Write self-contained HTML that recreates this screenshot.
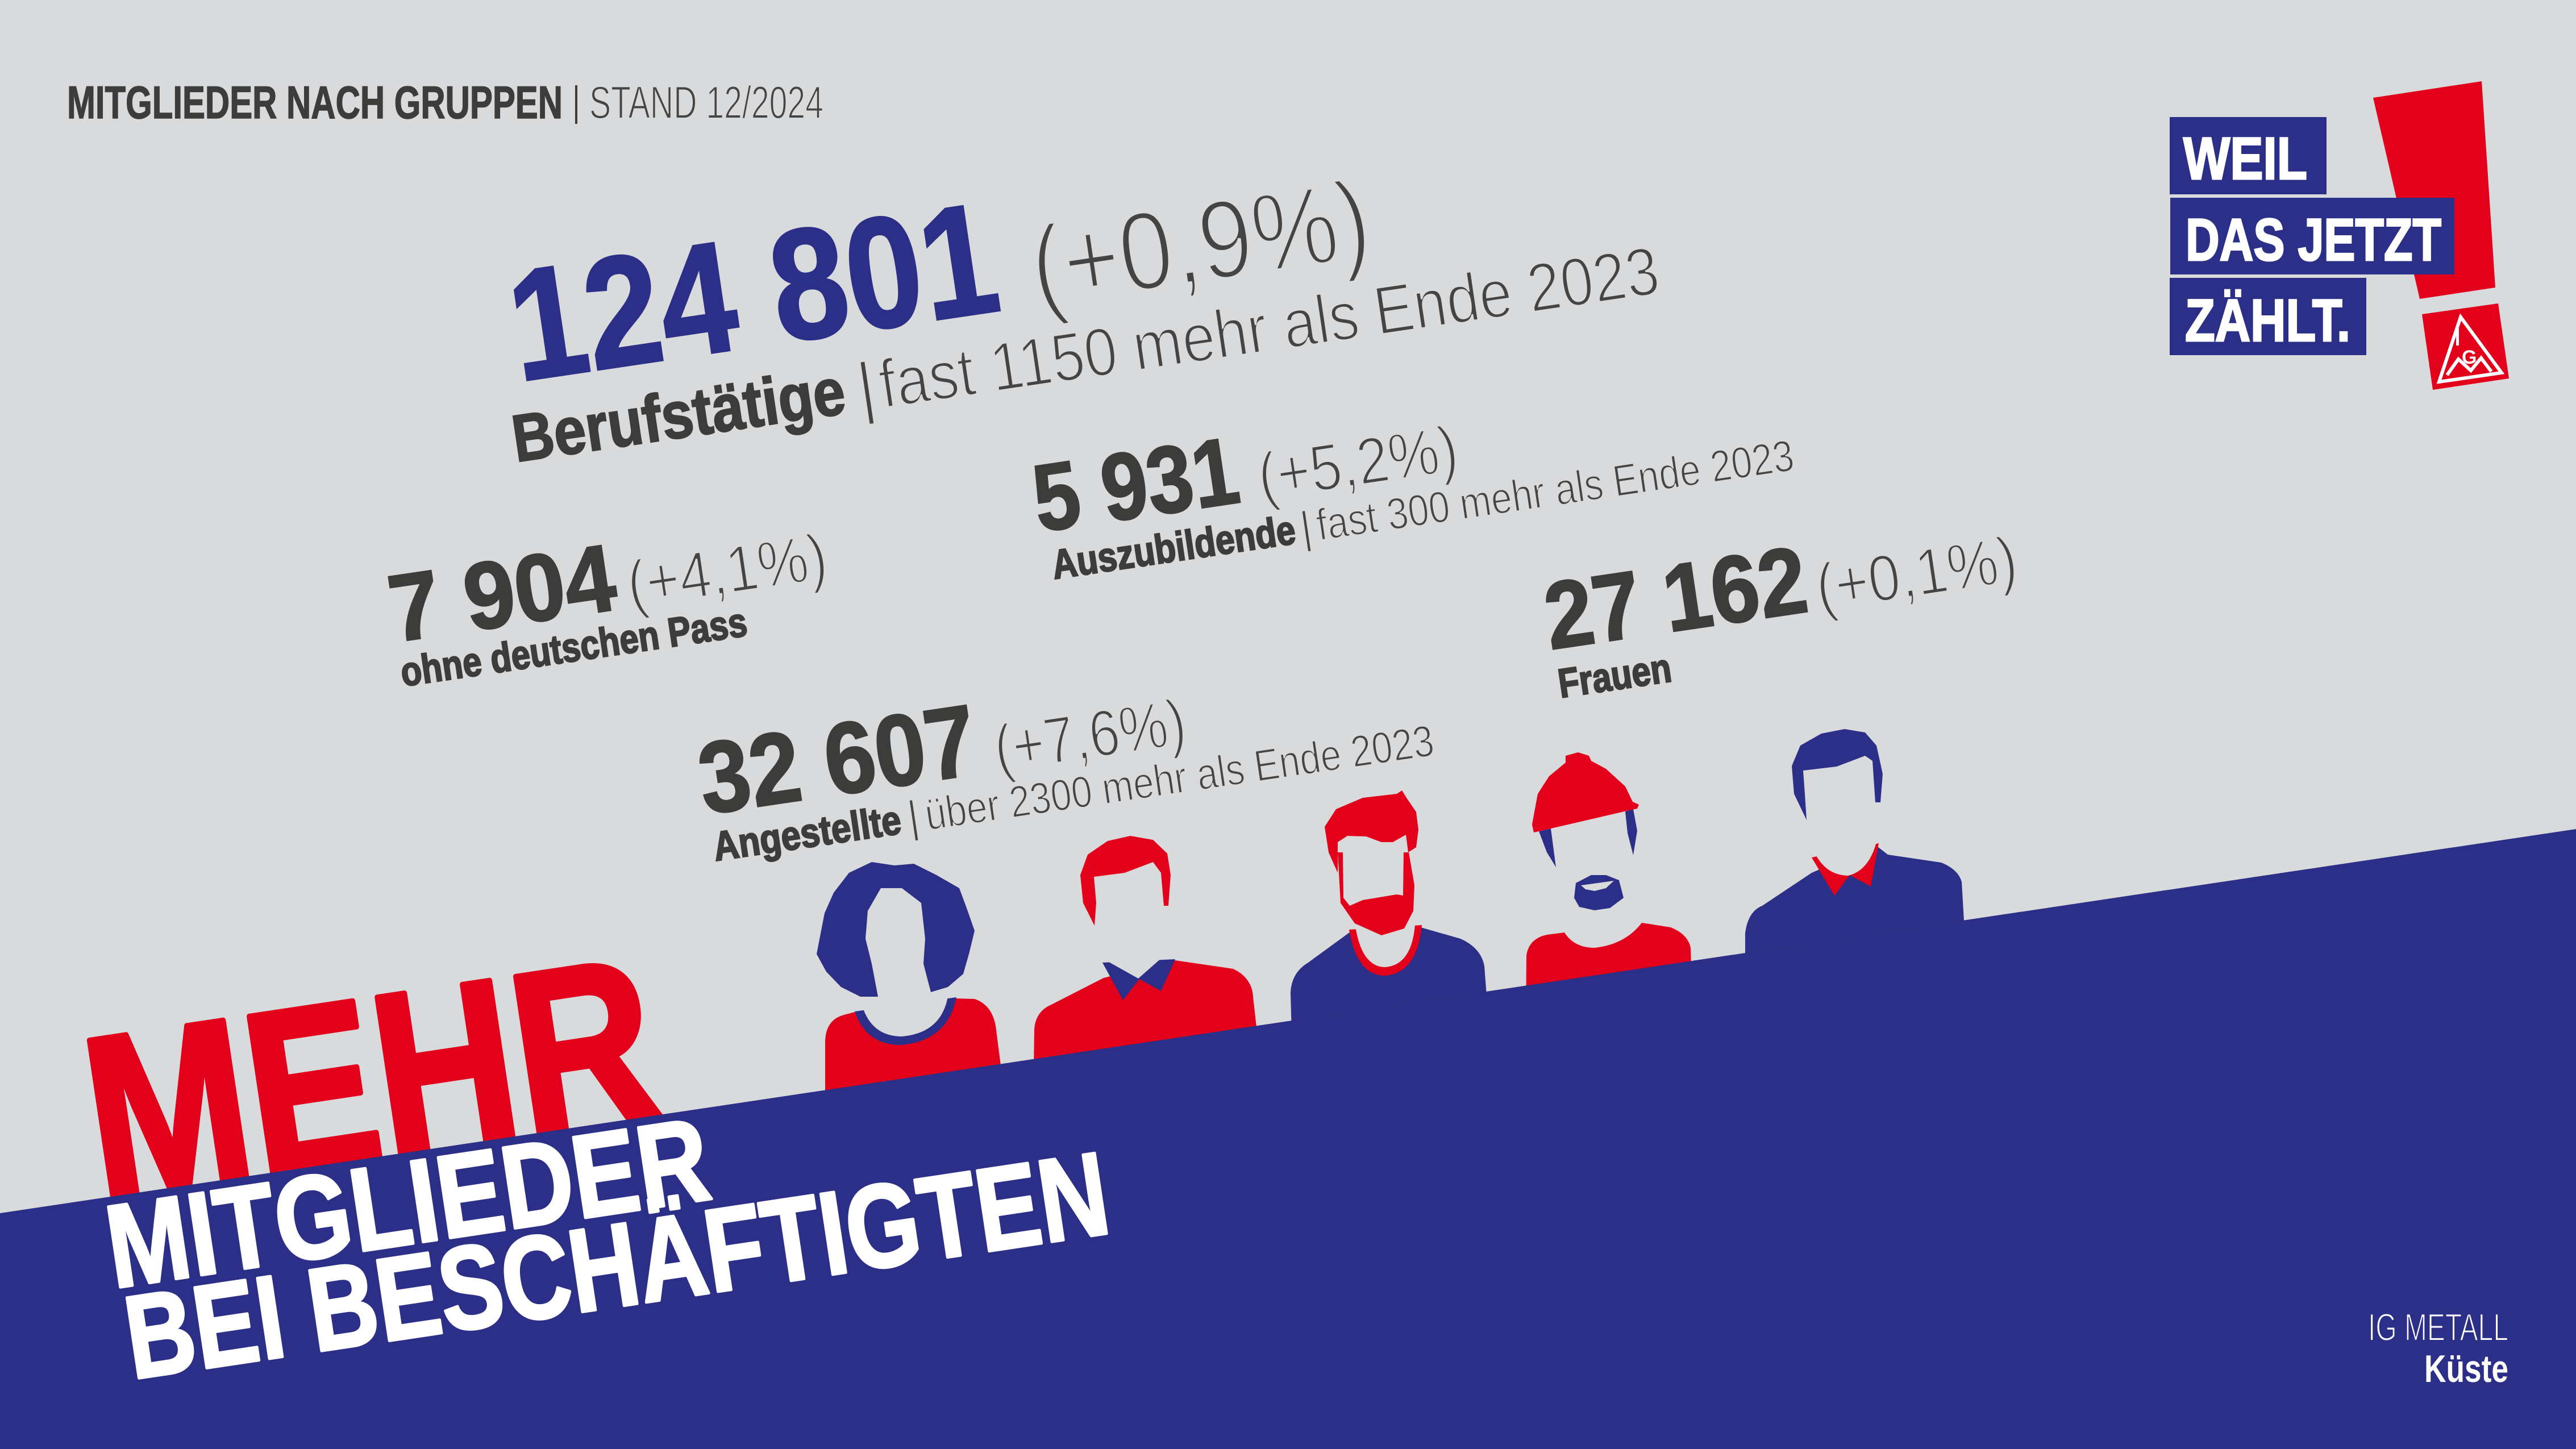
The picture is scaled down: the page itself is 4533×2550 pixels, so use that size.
<!DOCTYPE html>
<html>
<head>
<meta charset="utf-8">
<style>
html,body{margin:0;padding:0;background:#d9dadc;width:4533px;height:2550px;overflow:hidden}
svg{display:block}
text{font-family:"Liberation Sans","DejaVu Sans",sans-serif}
.lt{fill:#444;stroke:#d9dadc;paint-order:normal}
.bd{font-weight:bold;fill:#3c3c3b;stroke:#3c3c3b;stroke-width:2.5}
</style>
</head>
<body>
<svg width="4533" height="2550" viewBox="0 0 4533 2550" xmlns="http://www.w3.org/2000/svg">
<rect x="0" y="0" width="4533" height="2550" fill="#d9dadc"/>

<!-- Title -->
<text x="118" y="208" font-size="81" font-weight="bold" fill="#3c3c3b" stroke="#3c3c3b" stroke-width="1.5" textLength="872" lengthAdjust="spacingAndGlyphs">MITGLIEDER NACH GRUPPEN</text>
<rect x="1012" y="150" width="4" height="68" fill="#3c3c3b"/>
<text x="1037" y="208" font-size="81" class="lt" stroke-width="2" textLength="412" lengthAdjust="spacingAndGlyphs">STAND 12/2024</text>

<!-- Logo -->
<polygon points="4176,172 4367,143 4391,506 4258,526" fill="#e2001a"/>
<polygon points="4262,553 4396,534 4415,666 4281,686" fill="#e2001a"/>
<polygon points="4330,558 4292,672 4402,656" fill="none" stroke="#ffffff" stroke-width="6" stroke-linejoin="miter"/>
<rect x="4322" y="578" width="5" height="30" fill="#fff"/>
<text x="4332" y="640" font-size="34" font-weight="bold" fill="#fff">G</text>
<polyline points="4306,660 4326,632 4348,652 4366,630 4384,654" fill="none" stroke="#fff" stroke-width="6"/>
<rect x="3818" y="206" width="276" height="136" fill="#2b2f87"/>
<rect x="3819" y="348" width="500" height="135" fill="#2b2f87"/>
<rect x="3818" y="489" width="346" height="136" fill="#2b2f87"/>
<text x="3842" y="315" font-size="105" font-weight="bold" fill="#fff" stroke="#fff" stroke-width="3" textLength="218" lengthAdjust="spacingAndGlyphs">WEIL</text>
<text x="3846" y="458" font-size="105" font-weight="bold" fill="#fff" stroke="#fff" stroke-width="3" textLength="450" lengthAdjust="spacingAndGlyphs">DAS JETZT</text>
<text x="3845" y="600" font-size="105" font-weight="bold" fill="#fff" stroke="#fff" stroke-width="3" textLength="291" lengthAdjust="spacingAndGlyphs">ZÄHLT.</text>

<!-- Stats -->
<g fill="#3c3c3b">
<text transform="translate(913 671) rotate(-8.4)" font-size="277" font-weight="bold" fill="#2b2f87" stroke="#2b2f87" stroke-width="4" textLength="862" lengthAdjust="spacingAndGlyphs">124 801</text>
<text transform="translate(1825 538) rotate(-8.4)" font-size="196" class="lt" stroke-width="6" textLength="600" lengthAdjust="spacingAndGlyphs">(+0,9%)</text>
<text transform="translate(908 813) rotate(-8.4)" font-size="117" class="bd" textLength="590" lengthAdjust="spacingAndGlyphs">Berufstätige</text>
<text transform="translate(1515 724) rotate(-8.4)" font-size="120" class="lt" stroke-width="3">|</text>
<text transform="translate(1554 718) rotate(-8.4)" font-size="120" class="lt" stroke-width="3.5" textLength="1385" lengthAdjust="spacingAndGlyphs">fast 1150 mehr als Ende 2023</text>

<text transform="translate(1828 936) rotate(-8.4)" font-size="167" font-weight="bold" stroke="#3c3c3b" stroke-width="3" textLength="362" lengthAdjust="spacingAndGlyphs">5 931</text>
<text transform="translate(2220 879) rotate(-8.4)" font-size="115" class="lt" stroke-width="3.5" textLength="354" lengthAdjust="spacingAndGlyphs">(+5,2%)</text>
<text transform="translate(1855 1019) rotate(-8.4)" font-size="72" class="bd" stroke-width="1.5" textLength="432" lengthAdjust="spacingAndGlyphs">Auszubildende</text>
<text transform="translate(2292 956) rotate(-8.4)" font-size="78" class="lt" stroke-width="2">|</text>
<text transform="translate(2321 951) rotate(-8.4)" font-size="78" class="lt" stroke-width="2.2" textLength="848" lengthAdjust="spacingAndGlyphs">fast 300 mehr als Ende 2023</text>

<text transform="translate(694 1130) rotate(-8.4)" font-size="167" font-weight="bold" stroke="#3c3c3b" stroke-width="3" textLength="400" lengthAdjust="spacingAndGlyphs">7 904</text>
<text transform="translate(1110 1069) rotate(-8.4)" font-size="115" class="lt" stroke-width="3.5" textLength="354" lengthAdjust="spacingAndGlyphs">(+4,1%)</text>
<text transform="translate(709 1208) rotate(-8.4)" font-size="72" class="bd" stroke-width="1.5" textLength="615" lengthAdjust="spacingAndGlyphs">ohne deutschen Pass</text>

<text transform="translate(2728 1143) rotate(-8.4)" font-size="167" font-weight="bold" stroke="#3c3c3b" stroke-width="3" textLength="463" lengthAdjust="spacingAndGlyphs">27 162</text>
<text transform="translate(3202 1074) rotate(-8.4)" font-size="115" class="lt" stroke-width="3.5" textLength="356" lengthAdjust="spacingAndGlyphs">(+0,1%)</text>
<text transform="translate(2746 1228) rotate(-8.4)" font-size="72" class="bd" stroke-width="1.5" textLength="200" lengthAdjust="spacingAndGlyphs">Frauen</text>

<text transform="translate(1240 1433) rotate(-8.4)" font-size="178" font-weight="bold" stroke="#3c3c3b" stroke-width="3" textLength="490" lengthAdjust="spacingAndGlyphs">32 607</text>
<text transform="translate(1756 1358) rotate(-8.4)" font-size="115" class="lt" stroke-width="3.5" textLength="339" lengthAdjust="spacingAndGlyphs">(+7,6%)</text>
<text transform="translate(1259 1515) rotate(-8.4)" font-size="72" class="bd" stroke-width="1.5" textLength="333" lengthAdjust="spacingAndGlyphs">Angestellte</text>
<text transform="translate(1601 1465) rotate(-8.4)" font-size="78" class="lt" stroke-width="2">|</text>
<text transform="translate(1632 1461) rotate(-8.4)" font-size="78" class="lt" stroke-width="2.2" textLength="904" lengthAdjust="spacingAndGlyphs">über 2300 mehr als Ende 2023</text>
</g>

<!-- Figure 1: woman -->
<path d="M1452,1960 L1452,1835 Q1452,1795 1485,1786 L1512,1779 L1681,1757 L1715,1758 Q1745,1768 1752,1805 L1772,1960 Z" fill="#e2001a"/>
<path d="M1504,1780 Q1525,1840 1587,1839 Q1668,1831 1683,1755 Z" fill="#2b2f87"/>
<path d="M1520,1778 Q1538,1824 1587,1824 Q1656,1818 1668,1754 L1668,1740 L1520,1740 Z" fill="#d9dadc"/>
<path d="M1574,1523 L1534,1517 L1494,1536 L1467,1571 L1451,1607 L1437,1679 L1454,1710 L1480,1737 L1514,1754 L1545,1754 L1534,1696 L1523,1652 L1527,1603 L1550,1563 L1587,1563 L1621,1589 L1628,1652 L1625,1696 L1638,1746 L1668,1737 L1695,1714 L1705,1679 L1715,1638 L1701,1598 L1688,1563 L1648,1540 L1608,1520 Z" fill="#2b2f87"/>

<!-- Figure 2 -->
<path d="M1818,1960 L1820,1812 Q1822,1780 1850,1768 L1942,1721 L2068,1690 L2170,1705 Q2198,1718 2204,1745 L2228,1960 Z" fill="#e2001a"/>
<path d="M1940,1694 L1976,1760 L2005,1723 L2043,1744 L2068,1688 Z" fill="#2b2f87"/>
<path d="M1946,1690 L2003,1722 L2060,1672 L2060,1640 L1946,1640 Z" fill="#d9dadc"/>
<path d="M1926,1629 L1906,1589 L1901,1540 L1914,1504 L1949,1480 L1989,1471 L2029,1478 L2054,1502 L2060,1540 L2056,1594 L2048,1594 L2043,1536 L2029,1517 L1979,1536 L1925,1543 L1929,1589 Z" fill="#e2001a"/>

<!-- Figure 3 -->
<path d="M2277,1960 L2271,1748 Q2272,1712 2302,1694 L2376,1640 L2500,1632 L2570,1652 Q2606,1668 2612,1700 L2632,1960 Z" fill="#2b2f87"/>
<path d="M2374,1636 Q2388,1718 2438,1717 Q2494,1712 2502,1628 Z" fill="#e2001a"/>
<path d="M2386,1636 Q2398,1702 2438,1702 Q2484,1698 2490,1628 L2490,1600 L2386,1600 Z" fill="#d9dadc"/>
<path d="M2354,1500 L2359,1589 L2384,1625 L2431,1646 L2471,1634 L2487,1603 L2489,1558 L2479,1500 L2470,1500 L2469,1576 L2458,1574 L2398,1584 L2375,1594 L2364,1580 L2363,1500 Z" fill="#e2001a"/>
<path d="M2354,1536 L2338,1500 L2331,1455 L2351,1424 L2398,1404 L2458,1397 L2467,1391 L2475,1404 L2492,1429 L2496,1460 L2492,1491 L2478,1500 L2474,1469 L2451,1482 L2431,1482 L2404,1472 L2371,1471 L2354,1482 Z" fill="#e2001a"/>

<!-- Figure 4 -->
<path d="M2684,1960 L2686,1682 Q2690,1652 2722,1645 L2753,1641 Q2770,1668 2806,1668 Q2860,1662 2889,1624 L2940,1632 Q2970,1644 2975,1668 L2984,1960 Z" fill="#e2001a"/>
<path d="M2708,1463 L2729,1458 L2738,1526 L2722,1500 Z" fill="#2b2f87"/>
<path d="M2860,1428 L2874,1424 L2881,1462 L2874,1505 L2864,1466 Z" fill="#2b2f87"/>
<path d="M2773,1554 L2800,1540 L2826,1540 L2849,1549 L2857,1580 L2833,1598 L2806,1602 L2779,1596 L2770,1580 Z" fill="#2b2f87"/>
<path d="M2782,1558 L2840,1550 L2826,1563 L2806,1568 L2790,1565 Z" fill="#d9dadc"/>
<path d="M2699,1465 L2696,1451 L2706,1397 L2726,1366 L2755,1342 L2755,1330 L2777,1324 L2796,1330 L2800,1339 L2826,1353 L2860,1384 L2873,1411 L2884,1416 L2881,1423 L2867,1426 Z" fill="#e2001a"/>

<!-- Figure 5 -->
<path d="M3071,1960 L3071,1642 Q3076,1604 3101,1594 L3188,1536 L3300,1487 L3322,1504 L3416,1518 Q3446,1530 3452,1552 L3476,1960 Z" fill="#2b2f87"/>
<path d="M3188,1509 L3228,1576 L3255,1540 L3292,1560 L3306,1484 Z" fill="#e2001a"/>
<path d="M3193,1500 Q3212,1540 3252,1541 Q3290,1532 3303,1478 L3303,1440 L3193,1440 Z" fill="#d9dadc"/>
<path d="M3179,1443 L3157,1397 L3153,1348 L3168,1312 L3205,1291 L3246,1283 L3282,1289 L3302,1312 L3313,1362 L3309,1412 L3300,1412 L3295,1339 L3282,1330 L3232,1349 L3173,1356 L3176,1397 Z" fill="#2b2f87"/>

<!-- MEHR -->
<text transform="translate(176 2112) rotate(-8.5)" font-size="408" font-weight="bold" fill="#e2001a" stroke="#e2001a" stroke-width="10" stroke-linejoin="round" textLength="1005" lengthAdjust="spacingAndGlyphs">MEHR</text>

<!-- Blue band -->
<polygon points="0,2135 4533,1459 4533,2550 0,2550" fill="#2b2f87"/>

<!-- White headline -->
<text transform="translate(200 2267) rotate(-8.5)" font-size="208" font-weight="bold" fill="#fff" stroke="#fff" stroke-width="5" stroke-linejoin="round" textLength="1068" lengthAdjust="spacingAndGlyphs">MITGLIEDER</text>
<text transform="translate(233 2427) rotate(-8.5)" font-size="208" font-weight="bold" fill="#fff" stroke="#fff" stroke-width="5" stroke-linejoin="round" textLength="1745" lengthAdjust="spacingAndGlyphs">BEI BESCHÄFTIGTEN</text>

<!-- Footer -->
<text x="4414" y="2359" font-size="68" fill="#fff" stroke="#2b2f87" stroke-width="2" text-anchor="end" textLength="247" lengthAdjust="spacingAndGlyphs">IG METALL</text>
<text x="4414" y="2432" font-size="68" font-weight="bold" fill="#fff" text-anchor="end" textLength="148" lengthAdjust="spacingAndGlyphs">Küste</text>
</svg>
</body>
</html>
